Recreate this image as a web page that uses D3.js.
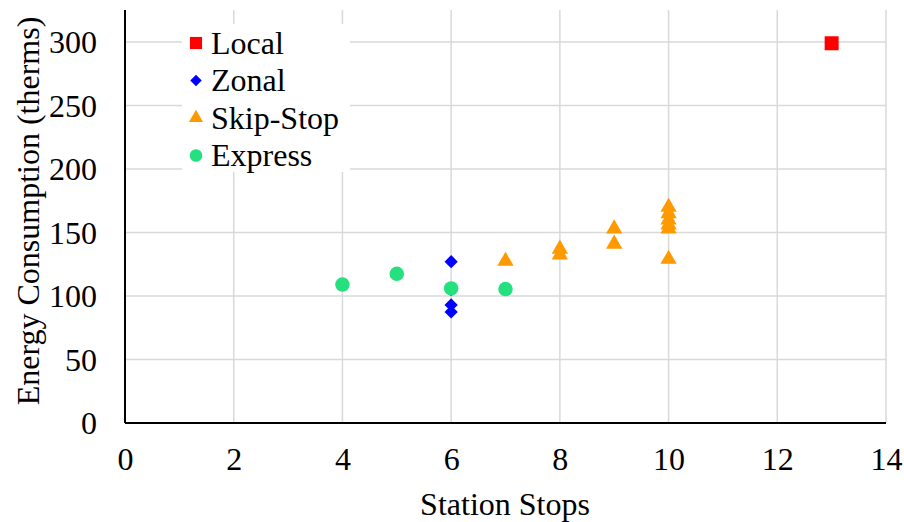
<!DOCTYPE html>
<html>
<head>
<meta charset="utf-8">
<script src="https://cdn.jsdelivr.net/npm/d3@7"></script>
<style>
  body { margin: 0; background: #fff; }
  svg text { font-family: "Liberation Serif", "Times New Roman", serif; fill: #000; }
</style>
</head>
<body>
<div id="chart"></div>
<script>
// data
var seriesNames = ["Local", "Zonal", "Skip-Stop", "Express"]
var seriesColors = ["#ff0000", "#0000ff", "#ff9900", "#24e07f"]
var localPts = [[13, 299]]
var zonalPts = [[6, 127], [6, 105], [6, 93], [6, 87.5]]
var skipPts = [[7, 127.5], [8, 137], [8, 132.5], [9, 153], [9, 141],
               [10, 170], [10, 165], [10, 160], [10, 156], [10, 153], [10, 129]]
var expressPts = [[4, 109], [5, 117.5], [6, 106], [7, 105.5]]
var xTicks = [0, 2, 4, 6, 8, 10, 12, 14]
var yTicks = [0, 50, 100, 150, 200, 250, 300]

var W = 904, H = 522
var FONT = "'Liberation Serif', 'Times New Roman', serif"
var margin = {top: 10, right: 18, bottom: 99, left: 125},
    width = W - margin.left - margin.right,
    height = H - margin.top - margin.bottom

var svg = d3.select("#chart").append("svg")
  .attr("width", W).attr("height", H)
var g = svg.append("g")
  .attr("transform", "translate(" + margin.left + "," + margin.top + ")")

var x = d3.scaleLinear().domain([0, 14]).range([0, width])
var y = d3.scaleLinear().domain([0, 300]).range([height, height - 381])

// gridlines
g.append("g").selectAll("line").data(xTicks.slice(1)).enter().append("line")
  .attr("x1", d => x(d)).attr("x2", d => x(d))
  .attr("y1", 0).attr("y2", height)
  .attr("stroke", "#d9d9d9").attr("stroke-width", 1.5)
g.append("g").selectAll("line").data(yTicks.slice(1)).enter().append("line")
  .attr("x1", 0).attr("x2", width)
  .attr("y1", d => y(d)).attr("y2", d => y(d))
  .attr("stroke", "#d9d9d9").attr("stroke-width", 1.5)

// axes
var xAxis = g.append("g")
  .attr("transform", "translate(0," + height + ")")
  .call(d3.axisBottom(x).tickValues(xTicks).tickSize(0).tickPadding(24))
var yAxis = g.append("g")
  .call(d3.axisLeft(y).tickValues(yTicks).tickSize(0).tickPadding(28))
xAxis.attr("font-family", FONT).attr("font-size", 32)
yAxis.attr("font-family", FONT).attr("font-size", 32)
xAxis.selectAll("text").attr("dy", "0.71em")
yAxis.selectAll("text").attr("dy", "0.34em")
xAxis.select(".domain").remove()
yAxis.select(".domain").remove()
g.append("line").attr("x1", 0).attr("x2", width).attr("y1", height).attr("y2", height)
  .attr("stroke", "#000").attr("stroke-width", 2)
g.append("line").attr("x1", 0).attr("x2", 0).attr("y1", 0).attr("y2", height)
  .attr("stroke", "#000").attr("stroke-width", 2)

// titles
svg.append("text")
  .attr("x", 505).attr("y", 515)
  .attr("text-anchor", "middle").style("font-size", "32px")
  .text("Station Stops")
svg.append("text")
  .attr("transform", "translate(39,211) rotate(-90)")
  .attr("text-anchor", "middle").style("font-size", "32px")
  .text("Energy Consumption (therms)")

// marker shapes
var shapes = [d3.symbolSquare, d3.symbolSquare, d3.symbolTriangle, d3.symbolCircle]
var sizes = [196, 88, 115, 165]
var rot = [0, 45, 0, 0]
var allSeries = [localPts, zonalPts, skipPts, expressPts]

// legend box
var lg = g.append("g").attr("transform", "translate(57,14)")
lg.append("rect").attr("x", 0).attr("y", 0).attr("width", 168).attr("height", 148).attr("fill", "#fff")
seriesNames.forEach(function(name, i) {
  var row = lg.append("g").attr("transform", "translate(14," + (19 + i * 37.5) + ")")
  row.append("path")
    .attr("d", d3.symbol().type(shapes[i]).size(sizes[i] * 0.75)())
    .attr("transform", "rotate(" + rot[i] + ")")
    .attr("fill", seriesColors[i])
  row.append("text").attr("x", 15).attr("dy", "0.34em")
    .style("font-size", "32px").text(name)
})

// points
allSeries.forEach(function(pts, i) {
  g.append("g").selectAll("path").data(pts).enter().append("path")
    .attr("transform", d => "translate(" + x(d[0]) + "," + y(d[1]) + ") rotate(" + rot[i] + ")")
    .attr("d", d3.symbol().type(shapes[i]).size(sizes[i])())
    .attr("fill", seriesColors[i])
})
</script>
</body>
</html>
